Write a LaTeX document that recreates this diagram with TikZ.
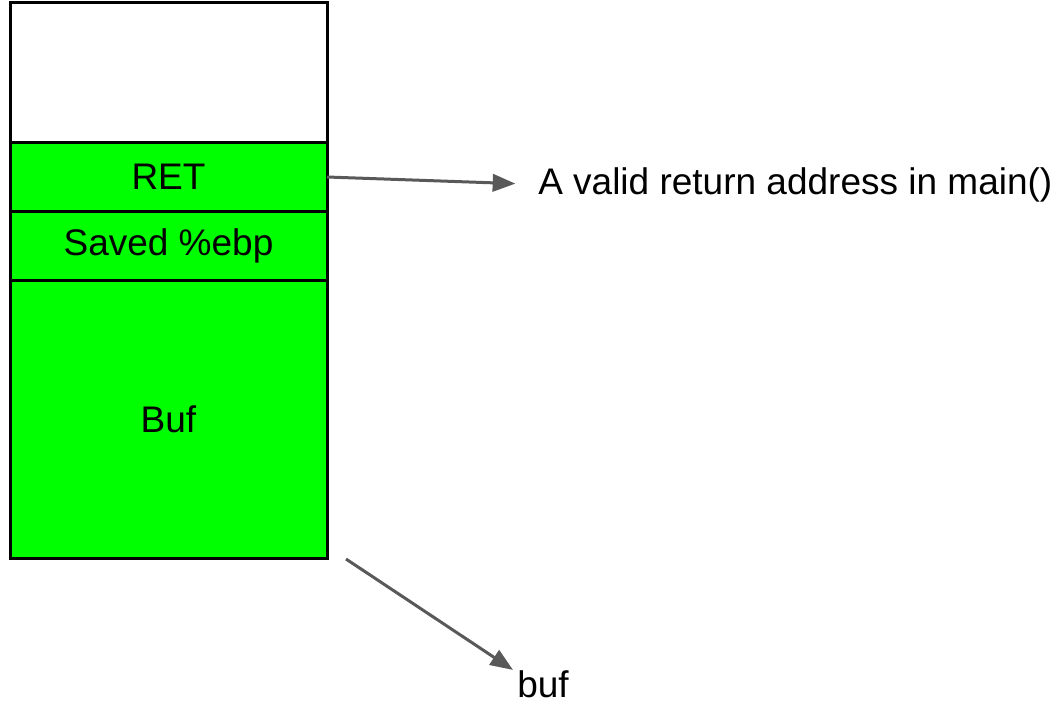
\documentclass[tikz,border=0pt]{standalone}
\usepackage{fontspec}
\setmainfont{Liberation Sans}
\usetikzlibrary{arrows.meta, positioning}
\definecolor{stackgreen}{RGB}{0,255,0}
\definecolor{ptrgray}{RGB}{89,89,89}

\begin{document}
\begin{tikzpicture}[
  x=0.75pt, y=-0.75pt,
  node distance=0pt,
  cell/.style={
    rectangle, draw, line width=2.25pt,
    minimum width=237.75pt,
    inner sep=0pt, outer sep=0pt,
    font=\fontsize{27.75}{33}\selectfont,
  },
  used/.style={fill=stackgreen},
  ptr/.style={-{Triangle[length=17pt, width=13pt]}, line width=2.25pt, draw=ptrgray},
  note/.style={font=\fontsize{27.75}{33}\selectfont, inner sep=0pt},
]
\useasboundingbox (0,0) rectangle (1059,706);

% ── Stack frame
\node[cell, minimum height=105pt, anchor=north] (free) at (168.5,3) {};
\node[cell, used, minimum height=51pt, below=of free] (ret) {RET};
\node[cell, used, minimum height=51.75pt, below=of ret] (ebp) {Saved \%ebp};
\node[cell, used, minimum height=208.5pt, below=of ebp] (buf) {Buf};

% ── Labels
\node[note, anchor=base west] (retlbl) at (538,194) {A valid return address in main()};
\node[note, anchor=base west] (buflbl) at (517,697) {buf};

% ── Pointers
\draw[ptr, shorten >=17pt] (ret.east) -- (retlbl.west);
\coordinate (bufptr) at (346,559);
\draw[ptr] (bufptr) -- ([xshift=-3pt]buflbl.north west);

\end{tikzpicture}
\end{document}
